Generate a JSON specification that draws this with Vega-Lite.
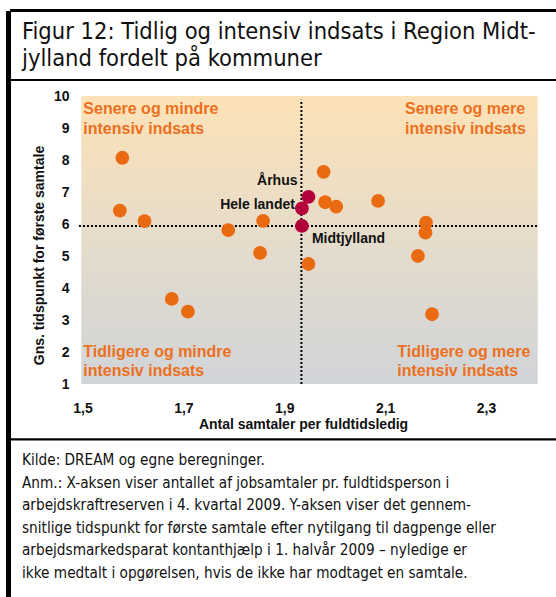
{
  "$schema": "https://vega.github.io/schema/vega-lite/v6.json",
  "width": 546,
  "height": 586,
  "autosize": {"type": "none"},
  "padding": {"left": 10, "top": 11, "right": 0, "bottom": 0},
  "background": "white",
  "config": {
    "view": {"stroke": null},
    "font": "Liberation Sans",
    "axis": {"grid": false, "domain": false, "ticks": false, "tickSize": 0}
  },
  "title": {
    "text": ["Figur 12: Tidlig og intensiv indsats i Region Midt-", "jylland fordelt på kommuner"],
    "subtitle": [
      "Kilde: DREAM og egne beregninger.",
      "Anm.: X-aksen viser antallet af jobsamtaler pr. fuldtidsperson i",
      "arbejdskraftreserven i 4. kvartal 2009. Y-aksen viser det gennem-",
      "snitlige tidspunkt for første samtale efter nytilgang til dagpenge eller",
      "arbejdsmarkedsparat kontanthjælp i 1. halvår 2009 – nyledige er",
      "ikke medtalt i opgørelsen, hvis de ikke har modtaget en samtale."
    ],
    "orient": "bottom",
    "anchor": "start",
    "frame": "group",
    "align": "left",
    "baseline": "top",
    "offset": -579.5,
    "dx": 12,
    "font": "'DejaVu Sans Condensed', 'Liberation Sans', sans-serif",
    "fontSize": 23.5,
    "fontWeight": "normal",
    "lineHeight": 26.5,
    "color": "#111111",
    "subtitleFont": "'DejaVu Sans Condensed', 'Liberation Sans', sans-serif",
    "subtitleFontSize": 15.2,
    "subtitleLineHeight": 22.6,
    "subtitlePadding": 383,
    "subtitleColor": "#111111"
  },
  "layer": [
    {
      "data": {"values": [{}]},
      "mark": {
        "type": "rect",
        "fill": {
          "gradient": "linear", "x1": 0, "y1": 0, "x2": 0, "y2": 1,
          "stops": [
            {"offset": 0, "color": "#FDE2B6"},
            {"offset": 0.5, "color": "#E5DCCB"},
            {"offset": 1, "color": "#D1D4D8"}
          ]
        }
      },
      "encoding": {
        "x": {"datum": 1.4975, "type": "quantitative", "scale": {"domain": [1.356265, 2.438739], "nice": false, "zero": false}},
        "x2": {"datum": 2.4025},
        "y": {"datum": 1, "type": "quantitative", "scale": {"domain": [-5.65625, 12.65625], "nice": false, "zero": false}},
        "y2": {"datum": 10}
      }
    },
    {
      "data": {"values": [{}]},
      "mark": {"type": "rule", "color": "#000000", "strokeWidth": 2, "strokeDash": [2, 2]},
      "encoding": {
        "x": {"datum": 1.493, "type": "quantitative"},
        "x2": {"datum": 2.4025},
        "y": {"datum": 5.94, "type": "quantitative"}
      }
    },
    {
      "data": {"values": [{}]},
      "mark": {"type": "rule", "color": "#000000", "strokeWidth": 2, "strokeDash": [2, 2]},
      "encoding": {
        "x": {"datum": 1.934, "type": "quantitative"},
        "y": {"datum": 1, "type": "quantitative"},
        "y2": {"datum": 9.88}
      }
    },
    {
      "data": {"values": [{}]},
      "mark": {"type": "rule", "color": "#000000", "strokeWidth": 3},
      "encoding": {"y": {"datum": 12.672, "type": "quantitative"}}
    },
    {
      "data": {"values": [{}]},
      "mark": {"type": "rule", "color": "#000000", "strokeWidth": 2},
      "encoding": {"y": {"datum": 10.5, "type": "quantitative"}}
    },
    {
      "data": {"values": [{}]},
      "mark": {"type": "rule", "color": "#000000", "strokeWidth": 2.3},
      "encoding": {"y": {"datum": -0.73, "type": "quantitative"}}
    },
    {
      "data": {"values": [{}]},
      "mark": {"type": "rule", "color": "#000000", "strokeWidth": 5},
      "encoding": {"x": {"datum": 1.353291, "type": "quantitative"}}
    },
    {
      "data": {
        "values": [
          {"navn": "Kommune", "gruppe": "Kommune", "x": 1.579, "y": 8.07},
          {"navn": "Kommune", "gruppe": "Kommune", "x": 1.574, "y": 6.42},
          {"navn": "Kommune", "gruppe": "Kommune", "x": 1.623, "y": 6.09},
          {"navn": "Kommune", "gruppe": "Kommune", "x": 1.789, "y": 5.81},
          {"navn": "Kommune", "gruppe": "Kommune", "x": 1.858, "y": 6.10},
          {"navn": "Kommune", "gruppe": "Kommune", "x": 1.852, "y": 5.10},
          {"navn": "Kommune", "gruppe": "Kommune", "x": 1.677, "y": 3.66},
          {"navn": "Kommune", "gruppe": "Kommune", "x": 1.709, "y": 3.26},
          {"navn": "Kommune", "gruppe": "Kommune", "x": 1.978, "y": 7.63},
          {"navn": "Kommune", "gruppe": "Kommune", "x": 1.981, "y": 6.68},
          {"navn": "Kommune", "gruppe": "Kommune", "x": 2.003, "y": 6.54},
          {"navn": "Kommune", "gruppe": "Kommune", "x": 2.086, "y": 6.72},
          {"navn": "Kommune", "gruppe": "Kommune", "x": 2.181, "y": 6.04},
          {"navn": "Kommune", "gruppe": "Kommune", "x": 2.180, "y": 5.73},
          {"navn": "Kommune", "gruppe": "Kommune", "x": 2.165, "y": 5.00},
          {"navn": "Kommune", "gruppe": "Kommune", "x": 1.948, "y": 4.75},
          {"navn": "Kommune", "gruppe": "Kommune", "x": 2.193, "y": 3.18},
          {"navn": "Hele landet", "gruppe": "Fremhævet", "x": 1.935, "y": 6.49},
          {"navn": "Århus", "gruppe": "Fremhævet", "x": 1.948, "y": 6.85},
          {"navn": "Midtjylland", "gruppe": "Fremhævet", "x": 1.935, "y": 5.94}
        ]
      },
      "layer": [
        {
          "mark": {"type": "circle", "size": 190, "opacity": 1},
          "encoding": {
            "x": {
              "field": "x", "type": "quantitative",
              "scale": {"domain": [1.356265, 2.438739], "nice": false, "zero": false},
              "axis": {
                "values": [1.5, 1.7, 1.9, 2.1, 2.3],
                "labelExpr": "replace(format(datum.value, '.1f'), '.', ',')",
                "offset": -213,
                "labelPadding": 17,
                "labelFontSize": 14,
                "labelFontWeight": "bold",
                "labelColor": "#111111",
                "title": "Antal samtaler per fuldtidsledig",
                "titleFontSize": 14,
                "titleFontWeight": "bold",
                "titleColor": "#111111",
                "titleX": 293,
                "titleY": 44.3,
                "titleAlign": "center",
                "titleBaseline": "alphabetic"
              }
            },
            "y": {
              "field": "y", "type": "quantitative",
              "scale": {"domain": [-5.65625, 12.65625], "nice": false, "zero": false},
              "axis": {
                "values": [1, 2, 3, 4, 5, 6, 7, 8, 9, 10],
                "offset": -71,
                "labelPadding": 12,
                "labelFontSize": 14,
                "labelFontWeight": "bold",
                "labelColor": "#111111",
                "title": "Gns. tidspunkt for første samtale",
                "titleFontSize": 14,
                "titleFontWeight": "bold",
                "titleColor": "#111111",
                "titleX": -38,
                "titleY": 244,
                "titleAngle": -90,
                "titleAlign": "center",
                "titleBaseline": "alphabetic"
              }
            },
            "color": {
              "field": "gruppe", "type": "nominal",
              "scale": {"domain": ["Kommune", "Fremhævet"], "range": ["#EA6A12", "#B3003A"]},
              "legend": null
            }
          }
        },
        {
          "transform": [{"filter": "datum.navn == 'Århus'"}],
          "mark": {"type": "text", "align": "right", "baseline": "middle", "dx": -11, "dy": -16, "fontSize": 14, "fontWeight": "bold", "color": "#111111"},
          "encoding": {
            "x": {"field": "x", "type": "quantitative"},
            "y": {"field": "y", "type": "quantitative"},
            "text": {"field": "navn"}
          }
        },
        {
          "transform": [{"filter": "datum.navn == 'Hele landet'"}],
          "mark": {"type": "text", "align": "right", "baseline": "middle", "dx": -7, "dy": -3, "fontSize": 14, "fontWeight": "bold", "color": "#111111"},
          "encoding": {
            "x": {"field": "x", "type": "quantitative"},
            "y": {"field": "y", "type": "quantitative"},
            "text": {"field": "navn"}
          }
        },
        {
          "transform": [{"filter": "datum.navn == 'Midtjylland'"}],
          "mark": {"type": "text", "align": "left", "baseline": "middle", "dx": 10, "dy": 13, "fontSize": 14, "fontWeight": "bold", "color": "#111111"},
          "encoding": {
            "x": {"field": "x", "type": "quantitative"},
            "y": {"field": "y", "type": "quantitative"},
            "text": {"field": "navn"}
          }
        }
      ]
    },
    {
      "data": {"values": [{}]},
      "mark": {"type": "text", "align": "left", "baseline": "alphabetic", "fontSize": 16, "fontWeight": "bold", "color": "#EC7020", "lineHeight": 19.5},
      "encoding": {
        "x": {"datum": 1.5016, "type": "quantitative"},
        "y": {"datum": 9.428, "type": "quantitative"},
        "text": {"value": ["Senere og mindre", "intensiv indsats"]}
      }
    },
    {
      "data": {"values": [{}]},
      "mark": {"type": "text", "align": "left", "baseline": "alphabetic", "fontSize": 16, "fontWeight": "bold", "color": "#EC7020", "lineHeight": 19.5},
      "encoding": {
        "x": {"datum": 2.1394, "type": "quantitative"},
        "y": {"datum": 9.428, "type": "quantitative"},
        "text": {"value": ["Senere og mere", "intensiv indsats"]}
      }
    },
    {
      "data": {"values": [{}]},
      "mark": {"type": "text", "align": "left", "baseline": "alphabetic", "fontSize": 16, "fontWeight": "bold", "color": "#EC7020", "lineHeight": 19.5},
      "encoding": {
        "x": {"datum": 1.5016, "type": "quantitative"},
        "y": {"datum": 1.844, "type": "quantitative"},
        "text": {"value": ["Tidligere og mindre", "intensiv indsats"]}
      }
    },
    {
      "data": {"values": [{}]},
      "mark": {"type": "text", "align": "left", "baseline": "alphabetic", "fontSize": 16, "fontWeight": "bold", "color": "#EC7020", "lineHeight": 19.5},
      "encoding": {
        "x": {"datum": 2.1241, "type": "quantitative"},
        "y": {"datum": 1.844, "type": "quantitative"},
        "text": {"value": ["Tidligere og mere", "intensiv indsats"]}
      }
    }
  ]
}
